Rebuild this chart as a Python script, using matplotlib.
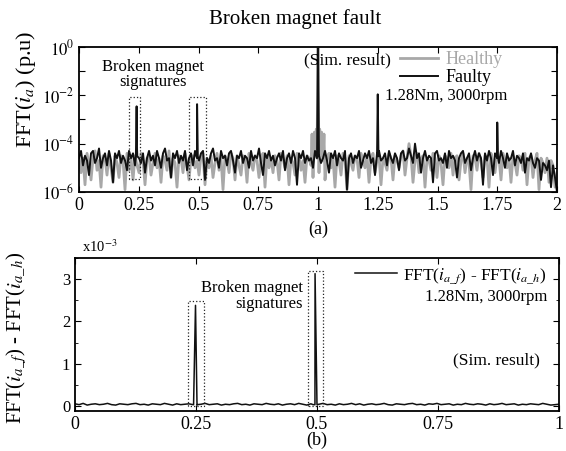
import numpy as np
import matplotlib
matplotlib.use("Agg")
import matplotlib.pyplot as plt
from matplotlib.ticker import FixedLocator, FuncFormatter, MultipleLocator

plt.rcParams['font.family'] = ['Liberation Serif', 'DejaVu Serif']
plt.rcParams['mathtext.fontset'] = 'stix'

# --- data ---
# (a) noise floor of the spectrum, log10 of FFT(ia) in p.u, 0..2 (harmonic order)
faulty_floor = [
    -4.6, -4.3, -4.9, -4.5, -4.7, -5.3, -4.4, -4.3, -4.8, -4.6, -4.2, -5.0, -4.6, -4.4, -4.9, -4.3, -4.7, -5.6, -4.4, -4.6,
    -4.3, -4.8, -4.5, -4.7, -5.1, -4.3, -4.6, -4.4, -4.9, -4.2, -4.6, -4.8, -4.4, -5.2, -4.6, -4.3, -4.7, -4.5, -4.9, -4.3,
    -4.6, -5.0, -4.4, -4.2, -4.7, -4.6, -5.4, -4.4, -4.6, -4.3, -4.8, -4.5, -4.7, -4.3, -5.1, -4.6, -4.4, -4.9, -4.3, -4.6,
    -4.7, -4.4, -4.3, -5.5, -4.6, -4.8, -4.4, -4.2, -4.7, -4.6, -5.0, -4.3, -4.6, -4.5, -4.9, -4.4, -4.3, -4.7, -5.2, -4.5,
    -4.6, -4.3, -4.8, -4.5, -4.6, -5.0, -4.3, -4.7, -4.5, -4.6, -4.2, -4.8, -5.3, -4.4, -4.6, -4.3, -4.7, -4.5, -4.9, -4.6,
    -4.4, -4.7, -4.3, -5.1, -4.6, -4.4, -4.8, -4.3, -4.6, -5.7, -4.4, -4.6, -4.3, -4.8, -4.5, -4.7, -4.6, -5.0, -4.3, -4.6,
    -4.5, -4.8, -4.6, -4.3, -4.7, -5.2, -4.4, -4.6, -4.3, -4.9, -4.4, -4.6, -4.7, -4.3, -5.9, -4.6, -4.4, -4.8, -4.5, -4.6,
    -4.3, -5.0, -4.7, -4.4, -4.6, -4.3, -4.8, -4.6, -5.3, -4.4, -4.3, -4.7, -4.6, -4.4, -4.9, -4.3, -4.6, -4.8, -4.4, -4.6,
    -5.1, -4.4, -4.3, -4.7, -4.6, -4.2, -4.5, -4.8, -4.0, -4.6, -4.4, -5.2, -4.6, -4.3, -4.7, -4.5, -4.6, -5.6, -4.4, -4.3,
    -4.7, -4.6, -4.8, -4.4, -5.0, -4.3, -4.6, -4.5, -4.7, -5.4, -4.6, -4.4, -4.3, -4.8, -4.6, -4.4, -5.1, -4.6, -4.3, -4.7,
    -4.4, -4.6, -5.7, -4.4, -4.7, -4.3, -4.6, -5.3, -4.4, -4.6, -4.8, -4.3, -4.6, -5.0, -4.4, -4.7, -4.6, -4.3, -4.9, -4.5,
    -4.6, -4.8, -4.4, -5.2, -4.6, -4.7, -4.4, -4.8, -5.0, -4.6, -4.7, -5.5, -4.8, -4.9, -5.1, -4.7, -5.8, -4.9, -5.4, -6.0,
]
healthy_floor = [
    -4.5, -5.2, -4.6, -5.7, -4.4, -4.9, -5.5, -4.6, -4.3, -5.1, -4.7, -5.8, -4.5, -4.6, -5.3, -4.4, -5.0, -5.6, -4.5, -4.8,
    -5.4, -4.5, -4.7, -5.9, -4.4, -5.1, -4.6, -5.5, -4.5, -4.9, -5.2, -4.4, -4.7, -5.7, -4.6, -4.5, -5.3, -4.8, -4.4, -5.0,
    -4.6, -5.6, -4.5, -4.7, -5.1, -4.3, -5.4, -4.6, -4.8, -5.8, -4.5, -4.6, -5.2, -4.4, -4.9, -5.5, -4.6, -4.5, -5.0, -4.7,
    -5.3, -4.5, -4.4, -5.7, -4.6, -5.0, -4.5, -5.4, -4.8, -4.4, -5.1, -4.6, -5.9, -4.5, -4.7, -5.2, -4.4, -4.6, -5.5, -4.5,
    -4.9, -5.3, -4.5, -4.6, -5.6, -4.4, -4.8, -5.1, -4.5, -4.7, -5.4, -4.6, -4.4, -5.8, -4.5, -5.0, -4.6, -5.2, -4.5, -4.7,
    -5.5, -4.4, -4.6, -5.0, -4.5, -5.7, -4.6, -4.8, -5.3, -4.4, -4.5, -5.1, -4.7, -5.6, -4.5, -4.6, -4.9, -5.4, -4.4, -4.6,
    -5.2, -4.5, -4.7, -5.5, -4.6, -4.4, -5.0, -4.6, -5.8, -4.5, -4.7, -5.3, -4.4, -4.6, -5.9, -4.5, -4.8, -5.1, -4.5, -4.6,
    -5.4, -4.4, -4.7, -5.0, -4.5, -5.6, -4.6, -4.4, -5.2, -4.7, -4.5, -5.7, -4.6, -4.8, -5.1, -4.4, -4.6, -5.5, -4.5, -4.7,
    -5.0, -4.5, -4.3, -5.3, -4.6, -4.0, -4.5, -5.6, -4.7, -4.4, -5.2, -4.6, -4.5, -5.8, -4.6, -4.7, -5.1, -4.4, -4.6, -5.4,
    -4.5, -4.8, -5.7, -4.5, -4.6, -5.0, -4.4, -5.3, -4.6, -4.5, -5.5, -4.7, -4.4, -5.2, -4.6, -4.8, -5.9, -4.5, -4.6, -5.1,
    -4.4, -4.7, -5.4, -4.5, -4.6, -5.8, -4.4, -4.9, -5.2, -4.5, -4.6, -5.5, -4.4, -4.7, -5.0, -4.6, -5.6, -4.5, -4.8, -5.3,
    -4.5, -4.6, -5.1, -4.4, -5.7, -4.6, -4.5, -5.4, -4.7, -4.4, -5.9, -4.6, -4.8, -5.2, -4.6, -5.6, -4.7, -4.9, -5.8, -5.2,
]
faulty_peak_freq = [0.238, 0.241, 0.244, 0.491, 0.494, 0.497, 0.996, 1.0, 1.004, 1.247, 1.25, 1.253, 1.747, 1.75, 1.753]
faulty_peak_amp = [3e-5, 3.5e-3, 3e-5, 3e-5, 4.3e-3, 3e-5, 3e-5, 0.85, 3e-5, 3e-5, 1.1e-2, 3e-5, 3e-5, 7.5e-4, 3e-5]
healthy_peak_freq = [0.975, 0.985, 0.993, 1.0, 1.007, 1.015, 1.025]
healthy_peak_amp = [2.5e-4, 3e-4, 4e-4, 0.95, 4e-4, 3e-4, 2.5e-4]

# (b) difference FFT(ia_f) - FFT(ia_h), x1e-3, 0..1
diff_floor = [
    0.05, 0.03, 0.06, 0.02, 0.04, 0.05, 0.03, 0.04, 0.06, 0.03, 0.02, 0.05, 0.04, 0.03, 0.05, 0.06, 0.03, 0.04, 0.02, 0.05,
    0.04, 0.03, 0.06, 0.04, 0.02, 0.05, 0.03, 0.04, 0.05, 0.03, 0.02, 0.04, 0.06, 0.03, 0.04, 0.05, 0.02, 0.04, 0.03, 0.05,
    0.06, 0.03, 0.04, 0.02, 0.05, 0.04, 0.03, 0.06, 0.04, 0.03, 0.05, 0.02, 0.04, 0.05, 0.03, 0.06, 0.04, 0.02, 0.05, 0.03,
    0.04, 0.06, 0.03, 0.04, 0.02, 0.05, 0.03, 0.04, 0.06, 0.03, 0.05, 0.02, 0.04, 0.05, 0.03, 0.04, 0.06, 0.03, 0.02, 0.05,
    0.04, 0.03, 0.05, 0.06, 0.03, 0.04, 0.02, 0.05, 0.04, 0.06, 0.03, 0.04, 0.05, 0.02, 0.04, 0.03, 0.06, 0.04, 0.03, 0.05,
    0.04, 0.02, 0.05, 0.03, 0.04, 0.06, 0.03, 0.04, 0.05, 0.02, 0.04, 0.03, 0.05, 0.04, 0.03, 0.06, 0.04, 0.02, 0.03, 0.04,
]
diff_peak_freq = [0.245, 0.249, 0.253, 0.492, 0.496, 0.5]
diff_peak_amp = [0.03, 2.38, 0.03, 0.03, 3.13, 0.03]


def merge(floor, x_max, pk_f, pk_a, log=True):
    x = np.linspace(0, x_max, len(floor))
    y = 10 ** np.array(floor) if log else np.array(floor)
    x = np.concatenate([x, pk_f])
    y = np.concatenate([y, pk_a])
    order = np.argsort(x)
    return x[order], y[order]


fig = plt.figure(figsize=(5.66, 4.51), dpi=100)
ax1 = fig.add_axes([0.1396, 0.5743, 0.8445, 0.3215])
ax2 = fig.add_axes([0.1325, 0.0887, 0.8551, 0.3392])

# ---- (a) ----
xh, yh = merge(healthy_floor, 2, healthy_peak_freq, healthy_peak_amp)
xf, yf = merge(faulty_floor, 2, faulty_peak_freq, faulty_peak_amp)
ax1.plot(xh, yh, color='#a8a8a8', lw=2.0, label='Healthy')
ax1.plot(xf, yf, color='#111111', lw=1.4, label='Faulty')
ax1.set_yscale('log')
ax1.set_xlim(0, 2)
ax1.set_ylim(1e-6, 1)
ax1.set_xticks(np.arange(0, 2.01, 0.25))
ax1.set_xticklabels(['0', '0.25', '0.5', '0.75', '1', '1.25', '1.5', '1.75', '2'])
ax1.yaxis.set_major_locator(FixedLocator([10.0 ** k for k in range(-6, 1)]))
ax1.yaxis.set_major_formatter(FuncFormatter(
    lambda v, p: r'$10^{%d}$' % round(np.log10(v)) if round(np.log10(v)) % 2 == 0 else ''))

for x0, x1 in [(0.208, 0.257), (0.461, 0.531)]:
    ax1.plot([x0, x0, x1, x1, x0], [3.5e-6, 8.7e-3, 8.7e-3, 3.5e-6, 3.5e-6],
             ls=':', color='#222222', lw=0.9)

ax1.text(0.154, 0.81, 'Broken magnet\nsignatures', transform=ax1.transAxes,
         ha='center', va='center', fontsize=12, linespacing=0.95)
ax1.text(0.562, 0.91, '(Sim. result)', transform=ax1.transAxes,
         ha='center', va='center', fontsize=12.5)
ax1.text(0.897, 0.66, '1.28Nm, 3000rpm', transform=ax1.transAxes,
         ha='right', va='center', fontsize=12)
leg1 = ax1.legend(loc='upper right', bbox_to_anchor=(0.92, 1.085), frameon=False,
                  fontsize=13, handlelength=2.1, handletextpad=0.4, labelspacing=0.05)
leg1.get_texts()[0].set_color('#a8a8a8')
ax1.set_ylabel(r'FFT($i_a$) (p.u)', fontsize=16)
ax1.yaxis.set_label_coords(-0.085, 0.71)
ax1.text(0.5, -0.255, '(a)', transform=ax1.transAxes, ha='center', va='center', fontsize=13)

# ---- (b) ----
xd, yd = merge(diff_floor, 1, diff_peak_freq, diff_peak_amp, log=False)
ax2.plot(xd, yd, color='#111111', lw=1.1, label=r'FFT($i_{a\_f}$) - FFT($i_{a\_h}$)')
ax2.set_xlim(0, 1)
ax2.set_ylim(-0.12, 3.5)
ax2.set_xticks([0, 0.25, 0.5, 0.75, 1])
ax2.set_xticklabels(['0', '0.25', '0.5', '0.75', '1'])
ax2.set_yticks([0, 1, 2, 3])
ax2.yaxis.set_minor_locator(MultipleLocator(0.5))

for x0, x1, top in [(0.234, 0.267, 2.49), (0.481, 0.513, 3.2)]:
    ax2.plot([x0, x0, x1, x1, x0], [0, top, top, 0, 0],
             ls=':', color='#222222', lw=0.9)

ax2.text(0.471, 0.752, 'Broken magnet\nsignatures', transform=ax2.transAxes,
         ha='right', va='center', multialignment='right', fontsize=12, linespacing=0.95)
ax2.text(0.975, 0.745, '1.28Nm, 3000rpm', transform=ax2.transAxes,
         ha='right', va='center', fontsize=12)
ax2.text(0.961, 0.333, '(Sim. result)', transform=ax2.transAxes,
         ha='right', va='center', fontsize=12.5)
ax2.legend(loc='upper right', bbox_to_anchor=(1.008, 1.05), frameon=False,
           fontsize=12.5, handlelength=2.4, handletextpad=0.4)
ax2.set_ylabel(r'FFT($i_{a\_f}$) - FFT($i_{a\_h}$)', fontsize=15)
ax2.yaxis.set_label_coords(-0.095, 0.48)
ax2.text(0.5, -0.19, '(b)', transform=ax2.transAxes, ha='center', va='center', fontsize=13)
fig.text(82 / 566, 1 - 247 / 451, r'x10$^{-3}$', fontsize=10.5, va='center')

for ax in (ax1, ax2):
    ax.tick_params(which='both', direction='in', top=True, right=True, labelsize=12)
    ax.tick_params(axis='x', labelsize=13)
    ax.tick_params(which='major', length=4)
    ax.tick_params(which='minor', length=2)
    for s in ax.spines.values():
        s.set_linewidth(1.3)

fig.text(295 / 566, 1 - 19 / 451, 'Broken magnet fault', ha='center', va='center', fontsize=15)

fig.savefig('out.png', dpi=100)
